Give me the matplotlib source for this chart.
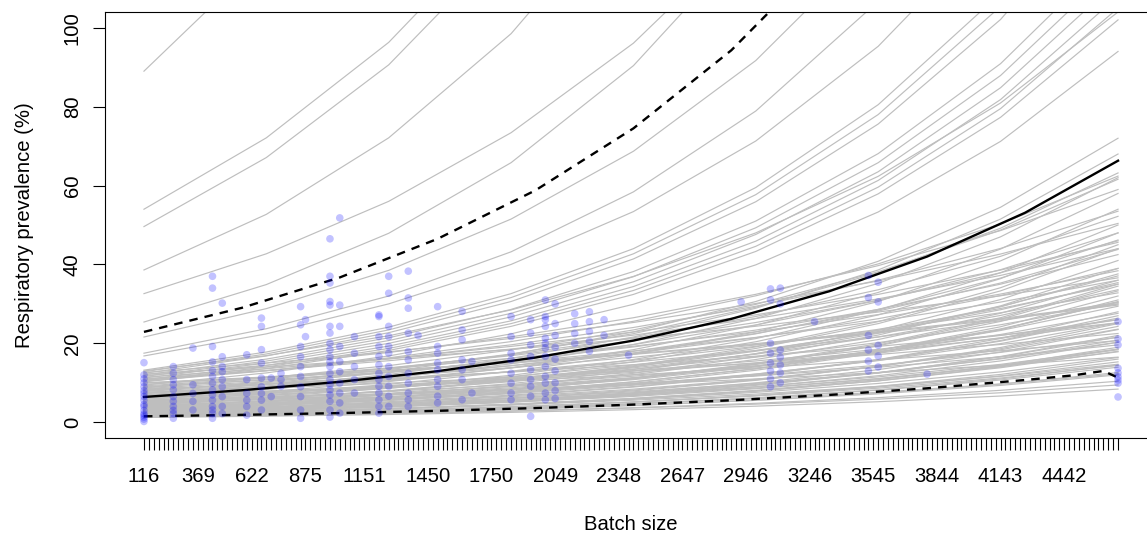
import matplotlib
matplotlib.use("Agg")
import matplotlib.pyplot as plt

plt.rcParams['font.family'] = ['Liberation Sans', 'DejaVu Sans']

# ---------------- data ----------------
# batch-size grid: 200 equally spaced levels (index positions 0..199)
n_levels = 200
tick_idx = [0, 11, 22, 33, 45, 58, 71, 84, 97, 110, 123, 136, 149, 162, 175, 188]
tick_labels = ['116', '369', '622', '875', '1151', '1450', '1750', '2049',
               '2348', '2647', '2946', '3246', '3545', '3844', '4143', '4442']
y_ticks = [0, 20, 40, 60, 80, 100]

# gray simulated curves: values read at these grid positions
knot_idx = [0, 25, 50, 75, 100, 125, 150, 175, 199]
gray_curves = [
    [89, 118.8, 158.7, 212.0, 283.1, 378.0, 504.8, 674.2, 890],
    [54, 72.1, 96.3, 128.6, 171.8, 229.3, 306.3, 409.1, 540],
    [49.6, 67.1, 90.6, 122.5, 165.5, 223.7, 302.3, 408.6, 545.6],
    [38.6, 52.7, 72.1, 98.5, 134.6, 183.9, 251.2, 343.3, 463.2],
    [32.6, 42.7, 56.0, 73.4, 96.1, 126.0, 165.1, 216.3, 280.4],
    [25.4, 34.9, 47.9, 65.8, 90.4, 124.1, 170.5, 234.1, 317.5],
    [21.6, 28.8, 38.5, 51.5, 68.7, 91.7, 122.5, 163.6, 216],
    [17.5, 23.7, 32.0, 43.2, 58.4, 78.9, 106.7, 144.1, 192.5],
    [16.8, 22.4, 30.0, 40.0, 53.4, 71.3, 95.3, 127.3, 168],
    [13.2, 17.8, 24.1, 32.6, 44.0, 59.5, 80.5, 108.7, 145.2],
    [13.0, 16.89, 21.92, 28.47, 36.96, 48.00, 62.34, 80.94, 104],
    [12.8, 17.3, 23.4, 31.6, 42.7, 57.7, 78.0, 105.4, 140.8],
    [12.6, 15.00, 17.85, 21.24, 25.29, 30.10, 35.82, 42.64, 50.4],
    [12.4, 16.8, 22.7, 30.6, 41.4, 55.9, 75.6, 102.1, 136.4],
    [12.2, 14.01, 16.08, 18.46, 21.19, 24.33, 27.93, 32.06, 36.6],
    [12.0, 16.0, 21.4, 28.6, 38.2, 51.0, 68.1, 90.9, 120],
    [11.8, 14.44, 17.68, 21.64, 26.49, 32.43, 39.70, 48.59, 59.0],
    [11.6, 15.5, 20.7, 27.6, 36.9, 49.3, 65.8, 87.9, 116],
    [11.4, 13.57, 16.15, 19.22, 22.88, 27.23, 32.41, 38.58, 45.6],
    [11.2, 15.0, 20.0, 26.7, 35.6, 47.6, 63.5, 84.8, 112],
    [11.0, 13.09, 15.59, 18.55, 22.08, 26.28, 31.27, 37.22, 44.0],
    [10.8, 14.4, 19.3, 25.7, 34.4, 45.9, 61.3, 81.8, 108],
    [10.7, 13.10, 16.03, 19.62, 24.02, 29.40, 36.00, 44.06, 53.5],
    [10.5, 14.0, 18.7, 25.0, 33.4, 44.6, 59.6, 79.5, 105],
    [10.4, 13.02, 16.32, 20.44, 25.59, 32.05, 40.14, 50.27, 62.4],
    [10.2, 13.6, 18.2, 24.3, 32.4, 43.3, 57.9, 77.3, 102],
    [10.0, 11.48, 13.18, 15.13, 17.37, 19.94, 22.89, 26.28, 30.0],
    [9.9, 11.37, 13.05, 14.98, 17.20, 19.74, 22.66, 26.02, 29.7],
    [9.6, 11.42, 13.60, 16.19, 19.27, 22.93, 27.29, 32.49, 38.4],
    [9.4, 12.5, 16.8, 22.4, 29.9, 39.9, 53.3, 71.2, 94],
    [9.2, 11.26, 13.78, 16.87, 20.65, 25.28, 30.95, 37.89, 46.0],
    [9.0, 10.71, 12.75, 15.17, 18.06, 21.50, 25.59, 30.46, 36.0],
    [8.8, 11.24, 14.35, 18.32, 23.40, 29.88, 38.15, 48.72, 61.6],
    [8.7, 10.89, 13.65, 17.10, 21.41, 26.81, 33.58, 42.06, 52.2],
    [8.5, 10.40, 12.73, 15.59, 19.08, 23.36, 28.59, 35.00, 42.5],
    [8.4, 9.64, 11.07, 12.71, 14.59, 16.75, 19.23, 22.08, 25.2],
    [8.2, 9.76, 11.62, 13.83, 16.46, 19.59, 23.31, 27.75, 32.8],
    [8.0, 10.02, 12.55, 15.72, 19.69, 24.66, 30.88, 38.67, 48.0],
    [7.9, 10.26, 13.32, 17.30, 22.46, 29.17, 37.88, 49.19, 63.2],
    [7.8, 9.55, 11.68, 14.31, 17.51, 21.43, 26.24, 32.12, 39.0],
    [7.6, 9.04, 10.77, 12.81, 15.25, 18.16, 21.61, 25.72, 30.4],
    [7.5, 8.61, 9.89, 11.35, 13.03, 14.96, 17.17, 19.71, 22.5],
    [7.3, 9.14, 11.45, 14.34, 17.97, 22.50, 28.18, 35.29, 43.8],
    [7.2, 9.6, 12.8, 17.2, 22.9, 30.6, 40.8, 54.5, 72],
    [7.0, 8.57, 10.49, 12.84, 15.72, 19.24, 23.55, 28.83, 35.0],
    [6.9, 7.92, 9.09, 10.44, 11.99, 13.76, 15.79, 18.13, 20.7],
    [6.8, 9.1, 12.1, 16.2, 21.6, 28.9, 38.6, 51.5, 68],
    [6.6, 8.43, 10.76, 13.74, 17.55, 22.41, 28.61, 36.54, 46.2],
    [6.5, 7.74, 9.21, 10.96, 13.05, 15.53, 18.48, 22.00, 26.0],
    [6.3, 7.50, 8.93, 10.62, 12.64, 15.05, 17.91, 21.32, 25.2],
    [6.2, 8.3, 11.1, 14.8, 19.7, 26.3, 35.2, 47.0, 62],
    [6.0, 7.34, 8.99, 11.00, 13.47, 16.49, 20.18, 24.71, 30.0],
    [5.9, 7.39, 9.26, 11.59, 14.52, 18.18, 22.77, 28.52, 35.4],
    [5.8, 7.7, 10.3, 13.8, 18.4, 24.6, 32.9, 43.9, 58],
    [5.6, 7.01, 8.79, 11.00, 13.78, 17.26, 21.62, 27.07, 33.6],
    [5.5, 6.31, 7.25, 8.32, 9.55, 10.97, 12.59, 14.45, 16.5],
    [5.4, 7.2, 9.6, 12.9, 17.2, 22.9, 30.6, 40.9, 54],
    [5.3, 6.77, 8.64, 11.03, 14.09, 17.99, 22.98, 29.34, 37.1],
    [5.2, 6.36, 7.79, 9.54, 11.67, 14.29, 17.49, 21.41, 26.0],
    [5.0, 6.7, 8.9, 11.9, 15.9, 21.2, 28.4, 37.9, 50],
    [4.9, 5.83, 6.94, 8.26, 9.83, 11.71, 13.93, 16.58, 19.6],
    [4.8, 6.4, 8.6, 11.4, 15.3, 20.4, 27.2, 36.4, 48],
    [4.7, 6.11, 7.92, 10.29, 13.36, 17.35, 22.54, 29.26, 37.6],
    [4.6, 5.76, 7.22, 9.04, 11.32, 14.18, 17.76, 22.24, 27.6],
    [4.5, 6.0, 8.0, 10.7, 14.3, 19.1, 25.5, 34.1, 45],
    [4.4, 5.9, 7.8, 10.5, 14.0, 18.7, 25.0, 33.3, 44],
    [4.3, 5.26, 6.44, 7.89, 9.65, 11.82, 14.47, 17.71, 21.5],
    [4.2, 5.36, 6.85, 8.74, 11.17, 14.26, 18.21, 23.25, 29.4],
    [4.1, 5.5, 7.3, 9.8, 13.0, 17.4, 23.3, 31.1, 41],
    [4.0, 5.27, 6.95, 9.16, 12.07, 15.90, 20.96, 27.62, 36.0],
    [3.9, 5.2, 7.0, 9.3, 12.4, 16.6, 22.1, 29.5, 39],
    [3.8, 4.94, 6.41, 8.32, 10.80, 14.03, 18.22, 23.66, 30.4],
    [3.7, 4.88, 6.43, 8.47, 11.16, 14.71, 19.38, 25.55, 33.3],
    [3.6, 4.60, 5.87, 7.50, 9.57, 12.22, 15.61, 19.93, 25.2],
    [3.5, 4.7, 6.2, 8.3, 11.1, 14.9, 19.9, 26.5, 35],
    [3.45, 4.61, 6.15, 8.22, 10.97, 14.65, 19.57, 26.13, 34.5],
    [3.4, 4.48, 5.91, 7.78, 10.26, 13.52, 17.81, 23.48, 30.6],
    [3.3, 4.29, 5.56, 7.23, 9.38, 12.18, 15.82, 20.55, 26.4],
    [3.2, 4.3, 5.7, 7.6, 10.2, 13.6, 18.2, 24.2, 32],
    [3.1, 4.14, 5.53, 7.38, 9.86, 13.17, 17.58, 23.48, 31.0],
    [3.0, 3.95, 5.21, 6.87, 9.05, 11.93, 15.72, 20.72, 27.0],
    [2.95, 3.83, 4.97, 6.46, 8.39, 10.89, 14.15, 18.37, 23.6],
    [2.9, 3.70, 4.73, 6.04, 7.71, 9.85, 12.57, 16.05, 20.3],
    [2.8, 3.74, 4.99, 6.67, 8.91, 11.89, 15.88, 21.21, 28.0],
    [2.7, 3.56, 4.69, 6.18, 8.15, 10.74, 14.15, 18.64, 24.3],
    [2.65, 3.38, 4.32, 5.52, 7.05, 9.00, 11.49, 14.67, 18.55],
    [2.6, 3.38, 4.38, 5.69, 7.39, 9.60, 12.47, 16.19, 20.8],
    [2.55, 3.26, 4.16, 5.31, 6.78, 8.66, 11.05, 14.12, 17.85],
    [2.5, 3.34, 4.46, 5.96, 7.95, 10.62, 14.18, 18.94, 25.0],
    [2.4, 3.16, 4.17, 5.49, 7.24, 9.54, 12.57, 16.57, 21.6],
    [2.35, 3.14, 4.19, 5.60, 7.48, 9.98, 13.33, 17.80, 23.5],
    [2.3, 2.99, 3.88, 5.04, 6.54, 8.49, 11.03, 14.32, 18.4],
    [2.25, 2.97, 3.91, 5.15, 6.79, 8.95, 11.79, 15.54, 20.25],
    [2.2, 2.94, 3.92, 5.24, 7.00, 9.34, 12.48, 16.67, 22.0],
    [2.1, 2.68, 3.43, 4.37, 5.58, 7.13, 9.10, 11.63, 14.7],
    [2.05, 2.66, 3.46, 4.49, 5.83, 7.57, 9.83, 12.76, 16.4],
    [2.0, 2.64, 3.47, 4.58, 6.03, 7.95, 10.48, 13.81, 18.0],
    [1.9, 2.54, 3.39, 4.53, 6.04, 8.07, 10.78, 14.39, 19.0],
    [1.85, 2.47, 3.30, 4.41, 5.88, 7.86, 10.49, 14.01, 18.5],
    [1.8, 2.34, 3.03, 3.94, 5.12, 6.65, 8.63, 11.21, 14.4],
    [1.75, 2.23, 2.85, 3.64, 4.65, 5.94, 7.59, 9.69, 12.25],
    [1.7, 2.24, 2.95, 3.89, 5.13, 6.76, 8.91, 11.74, 15.3],
    [1.6, 2.14, 2.85, 3.81, 5.09, 6.80, 9.08, 12.12, 16.0],
    [1.55, 2.04, 2.69, 3.55, 4.68, 6.16, 8.12, 10.70, 13.95],
    [1.5, 1.95, 2.53, 3.29, 4.26, 5.54, 7.19, 9.34, 12.0],
    [1.45, 1.94, 2.59, 3.45, 4.61, 6.16, 8.22, 10.98, 14.5],
    [1.4, 1.85, 2.43, 3.20, 4.22, 5.57, 7.33, 9.67, 12.6],
    [1.35, 1.72, 2.20, 2.81, 3.59, 4.58, 5.85, 7.47, 9.45],
    [1.3, 1.69, 2.19, 2.85, 3.70, 4.80, 6.23, 8.09, 10.4],
    [1.2, 1.53, 1.96, 2.50, 3.19, 4.07, 5.20, 6.64, 8.4],
]

# mean prediction
mean_idx = [0, 20, 40, 60, 80, 100, 120, 140, 160, 180, 199]
mean_vals = [6.4, 8.1, 10.24, 12.95, 16.4, 20.7, 26.2, 33.2, 42.0, 53.1, 66.3]

# upper / lower interval
upper_idx = [0, 20, 40, 60, 80, 100, 120, 140]
upper_vals = [22.9, 29.0, 36.7, 46.5, 58.8, 74.5, 94.3, 119.4]
lower_idx = [0, 20, 40, 60, 80, 100, 120, 140, 160, 180, 190, 196, 199]
lower_vals = [1.5, 1.87, 2.32, 2.89, 3.59, 4.47, 5.56, 6.92, 8.60, 10.7, 11.9, 13.0, 11.3]

# observed prevalence per batch (grid position, values)
obs_columns = [
    (0, [15.1, 12.0, 11.0, 10.0, 9.0, 8.0, 7.3, 6.5, 5.6, 4.5, 4.0, 3.0, 2.2, 1.8, 1.3, 0.8, 0.2]),
    (6, [14.1, 12.4, 10.8, 9.5, 8.2, 6.5, 5.3, 4.0, 3.0, 2.2, 1.0]),
    (10, [18.8, 9.5, 7.3, 5.3, 3.1]),
    (14, [37.0, 34.0, 19.2, 15.3, 13.1, 11.6, 9.9, 8.2, 6.9, 5.6, 4.0, 3.1, 2.2, 1.0]),
    (16, [30.2, 16.6, 14.1, 12.8, 10.8, 9.0, 6.5, 4.0, 2.2]),
    (21, [17.1, 10.8, 7.3, 5.6, 4.0, 1.8]),
    (24, [26.4, 24.3, 18.4, 15.0, 11.2, 9.0, 7.3, 5.6, 3.1]),
    (26, [11.2, 6.5]),
    (28, [12.4, 10.8, 9.1]),
    (32, [29.3, 24.7, 19.2, 16.6, 14.1, 11.6, 9.0, 6.5, 3.1, 1.0]),
    (33, [26.0, 21.7]),
    (38, [46.5, 37.0, 35.3, 30.6, 29.7, 24.3, 22.6, 20.0, 18.4, 16.6, 15.3, 14.1,
          12.4, 10.8, 9.5, 8.2, 6.9, 5.3, 3.1, 1.3]),
    (40, [51.8, 29.7, 24.3, 19.2, 15.4, 12.8, 9.9, 7.4, 4.9, 2.3]),
    (43, [21.7, 17.5, 14.1, 10.8, 7.4]),
    (48, [27.2, 26.8, 21.7, 19.2, 16.7, 14.5, 12.4, 10.8, 9.1, 7.4, 5.7, 4.0, 2.3]),
    (50, [37.0, 32.7, 24.3, 21.7, 19.2, 17.5, 14.1, 11.6, 9.1, 6.6, 4.0]),
    (54, [38.3, 31.5, 28.9, 22.6, 17.9, 15.8, 12.4, 9.9, 7.4, 5.7, 4.0]),
    (56, [22.0]),
    (60, [29.3, 19.2, 17.5, 15.0, 13.3, 10.8, 9.1, 6.6, 4.9]),
    (65, [28.1, 23.4, 20.9, 15.8, 13.3, 10.8, 5.7]),
    (67, [15.4, 7.4]),
    (75, [26.8, 21.7, 17.5, 15.8, 12.4, 9.9, 7.4, 5.7]),
    (79, [26.0, 22.6, 19.6, 16.7, 13.3, 10.8, 9.1, 6.6, 1.5]),
    (82, [31.0, 26.8, 26.0, 24.3, 21.3, 20.0, 18.8, 16.7, 14.1, 11.6, 9.9, 7.4, 5.7]),
    (84, [30.0, 25.0, 22.0, 19.0, 16.0, 13.0, 10.0, 8.0, 6.0]),
    (88, [27.5, 25.0, 22.5, 20.0]),
    (91, [28.0, 25.5, 23.0, 20.5, 18.0]),
    (94, [26.0, 22.0]),
    (99, [17.0]),
    (122, [30.5]),
    (128, [33.8, 31.0, 20.0, 17.5, 15.0, 13.0, 11.0, 9.0]),
    (130, [34.0, 30.0, 18.3, 16.5, 14.5, 12.5, 10.0]),
    (137, [25.5]),
    (148, [37.2, 31.6, 22.0, 18.3, 15.5, 13.0]),
    (150, [35.5, 30.5, 19.5, 16.8, 14.0]),
    (160, [12.2]),
    (199, [25.5, 21.1, 19.6, 13.7, 12.5, 11.5, 10.7, 9.9, 6.4]),
]

# ---------------- figure ----------------
W, H = 1147, 533
fig = plt.figure(figsize=(W / 100, H / 100), dpi=100)
ax = fig.add_axes([105 / W, (H - 438) / H, 1052 / W, 426 / H])
ax.set_xlim(-7.96, 206.96)
ax.set_ylim(-4, 104)

for curve in gray_curves:
    ax.plot(knot_idx, curve, color='#BEBEBE', lw=0.85, zorder=1,
            solid_joinstyle='round')

ax.plot(mean_idx, mean_vals, color='black', lw=1.7, zorder=3)
ax.plot(upper_idx, upper_vals, color='black', lw=1.7, zorder=3,
        dashes=(3.6, 3.0))
ax.plot(lower_idx, lower_vals, color='black', lw=1.7, zorder=3,
        dashes=(3.6, 3.0))

px, py = [], []
for col, vals in obs_columns:
    for v in vals:
        px.append(col)
        py.append(v)
ax.scatter(px, py, s=30, color=(0, 0, 1, 0.24), edgecolors='none', zorder=4)

# axes styling (R base look)
for sp in ax.spines.values():
    sp.set_color('black')
    sp.set_linewidth(0.8)

tick_text = [''] * n_levels
for i, lab in zip(tick_idx, tick_labels):
    tick_text[i] = lab
ax.set_xticks(list(range(n_levels)))
ax.set_xticklabels(tick_text)
ax.tick_params(axis='x', length=8.6, width=0.8, pad=12, labelsize=14.6,
               color='black')

ax.set_yticks(y_ticks)
ax.set_yticklabels([str(v) for v in y_ticks])
ax.tick_params(axis='y', length=8.6, width=0.8, pad=8, labelsize=14.6,
               color='black')
for lbl in ax.get_yticklabels():
    lbl.set_rotation(90)
    lbl.set_va('center')
    lbl.set_ha('right')

ax.set_xlabel('Batch size', fontsize=14.6)
ax.set_ylabel('Respiratory prevalence (%)', fontsize=14.6)
ax.xaxis.set_label_coords(0.5, -0.1808)
ax.yaxis.set_label_coords(-0.0677, 0.5)

fig.savefig('out.png', dpi=100)
